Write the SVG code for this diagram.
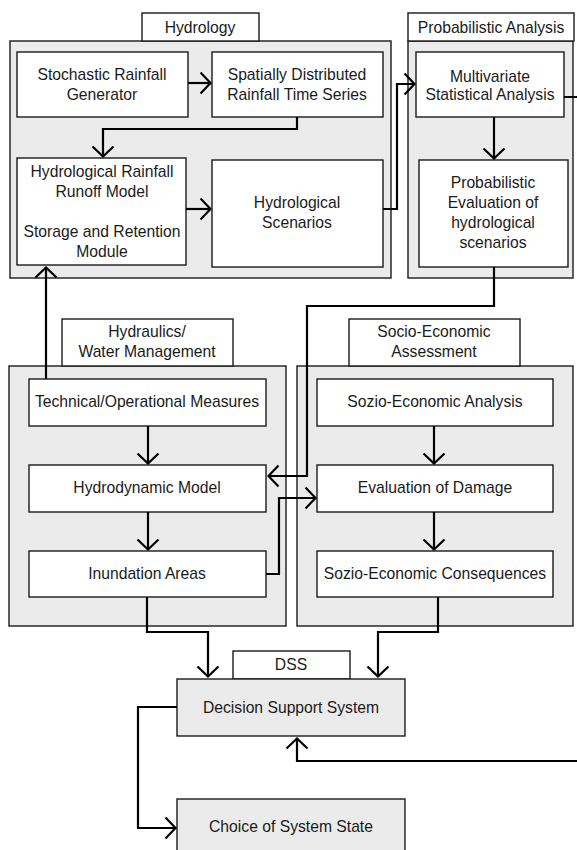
<svg xmlns="http://www.w3.org/2000/svg" width="577" height="850" viewBox="0 0 577 850">
<defs>
<style>
.cont{fill:#ebebeb;stroke:#1a1a1a;stroke-width:1.4}
.box{fill:#ffffff;stroke:#1a1a1a;stroke-width:1.4}
.gbox{fill:#ebebeb;stroke:#1a1a1a;stroke-width:1.4}
text{font-family:"Liberation Sans",Arial,sans-serif;font-size:15.7px;fill:#1a1a1a;text-anchor:middle}
.conn{fill:none;stroke:#000;stroke-width:2.2}
</style>
<marker id="ah" markerWidth="14" markerHeight="24" refX="11.5" refY="12" orient="auto" markerUnits="userSpaceOnUse">
<path d="M1,1.5 L11,12 L1,22.5" fill="none" stroke="#000" stroke-width="2.2"/>
</marker>
</defs>
<rect width="577" height="850" fill="#fff"/>

<g id="hydrology-group">
<rect class="cont" x="10" y="41" width="381" height="237"/>
<rect class="box" x="142" y="13" width="117" height="28"/>
<text x="200" y="33">Hydrology</text>
</g>
<g id="prob-group">
<rect class="cont" x="408" y="41" width="165" height="237"/>
<rect class="box" x="408" y="13" width="166" height="28"/>
<text x="491" y="33">Probabilistic Analysis</text>
</g>
<g id="hydraulics-group">
<rect class="cont" x="9" y="366" width="277" height="260"/>
<rect class="box" x="62" y="319" width="171" height="47"/>
<text x="147" y="337">Hydraulics/</text>
<text x="147" y="357">Water Management</text>
</g>
<g id="socio-group">
<rect class="cont" x="297" y="366" width="276" height="260"/>
<rect class="box" x="349" y="319" width="171" height="47"/>
<text x="434" y="337">Socio-Economic</text>
<text x="434" y="357">Assessment</text>
</g>

<g id="stochastic">
<rect class="box" x="17" y="52" width="171" height="65"/>
<text x="102" y="80">Stochastic Rainfall</text>
<text x="102" y="100">Generator</text>
</g>
<g id="spatially">
<rect class="box" x="212" y="52" width="171" height="65"/>
<text x="297" y="80">Spatially Distributed</text>
<text x="297" y="100">Rainfall Time Series</text>
</g>
<g id="runoff">
<rect class="box" x="17" y="158" width="169" height="107"/>
<text x="102" y="177">Hydrological Rainfall</text>
<text x="102" y="197">Runoff Model</text>
<text x="102" y="237">Storage and Retention</text>
<text x="102" y="257">Module</text>
</g>
<g id="scenarios">
<rect class="box" x="212" y="160" width="171" height="107"/>
<text x="297" y="208">Hydrological</text>
<text x="297" y="228">Scenarios</text>
</g>
<g id="multivariate">
<rect class="box" x="416" y="52" width="148" height="65"/>
<text x="490" y="82">Multivariate</text>
<text x="490" y="100">Statistical Analysis</text>
</g>
<g id="probeval">
<rect class="box" x="419" y="160" width="149" height="107"/>
<text x="493" y="188">Probabilistic</text>
<text x="493" y="208">Evaluation of</text>
<text x="493" y="228">hydrological</text>
<text x="493" y="248">scenarios</text>
</g>

<g id="technical">
<rect class="box" x="29" y="379" width="237" height="47"/>
<text x="147" y="407">Technical/Operational Measures</text>
</g>
<g id="hydrodynamic">
<rect class="box" x="29" y="465" width="237" height="47"/>
<text x="147" y="493">Hydrodynamic Model</text>
</g>
<g id="inundation">
<rect class="box" x="29" y="551" width="237" height="46"/>
<text x="147" y="579">Inundation Areas</text>
</g>
<g id="sozio-analysis">
<rect class="box" x="317" y="379" width="236" height="47"/>
<text x="435" y="407">Sozio-Economic Analysis</text>
</g>
<g id="damage">
<rect class="box" x="317" y="465" width="236" height="47"/>
<text x="435" y="493">Evaluation of Damage</text>
</g>
<g id="consequences">
<rect class="box" x="317" y="551" width="236" height="46"/>
<text x="435" y="579">Sozio-Economic Consequences</text>
</g>

<g id="dss">
<rect class="box" x="233" y="651" width="117" height="28"/>
<text x="291" y="670">DSS</text>
<rect class="gbox" x="177" y="679" width="228" height="57"/>
<text x="291" y="713">Decision Support System</text>
</g>
<g id="choice">
<rect class="gbox" x="177" y="799" width="228" height="55"/>
<text x="291" y="832">Choice of System State</text>
</g>

<g id="connectors">
<path class="conn" d="M188,83 H211" marker-end="url(#ah)"/>
<path class="conn" d="M297,117 V129 H103 V157" marker-end="url(#ah)"/>
<path class="conn" d="M186,209 H211" marker-end="url(#ah)"/>
<path class="conn" d="M383,209 H397 V84 H415" marker-end="url(#ah)"/>
<path class="conn" d="M494,117 V159" marker-end="url(#ah)"/>
<path class="conn" d="M564,97 H582 V761 H297 V738" marker-end="url(#ah)"/>
<path class="conn" d="M494,267 V306 H307 V476 H268" marker-end="url(#ah)"/>
<path class="conn" d="M46,379 V267" marker-end="url(#ah)"/>
<path class="conn" d="M148,426 V464" marker-end="url(#ah)"/>
<path class="conn" d="M148,512 V550" marker-end="url(#ah)"/>
<path class="conn" d="M266,574 H279 V498 H316" marker-end="url(#ah)"/>
<path class="conn" d="M434,426 V464" marker-end="url(#ah)"/>
<path class="conn" d="M434,512 V550" marker-end="url(#ah)"/>
<path class="conn" d="M147,597 V632 H208 V677" marker-end="url(#ah)"/>
<path class="conn" d="M438,597 V632 H378 V677" marker-end="url(#ah)"/>
<path class="conn" d="M177,707 H138 V828 H176" marker-end="url(#ah)"/>
</g>
</svg>
